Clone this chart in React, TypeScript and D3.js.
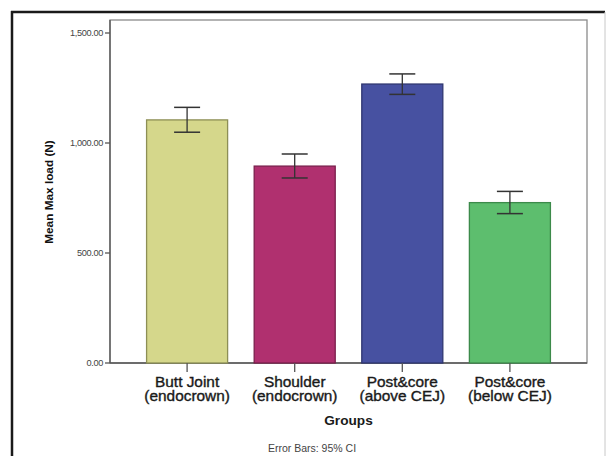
import React from "react";
import * as d3 from "d3";

// group labels (two lines each)
const groups = ["Butt Joint|(endocrown)", "Shoulder|(endocrown)", "Post&core|(above CEJ)", "Post&core|(below CEJ)"];
const means = [1105, 895, 1268, 729];
const ciLow = [1049, 841, 1221, 679];
const ciHigh = [1162, 950, 1314, 780];
const yTicks = [0, 500, 1000, 1500];
const fills = ["#d5d78b", "#b0306f", "#4751a1", "#5dbe6e"];
const strokes = ["#8d8f55", "#7a1f4c", "#2f3670", "#3c8a4a"];

const W = 614, H = 456;
const margin = { top: 20, left: 110, right: 27, bottom: 93 };

export default function App() {
  const x = d3.scaleBand()
    .domain(groups)
    .range([margin.left, W - margin.right])
    .paddingInner(0.247)
    .paddingOuter(0.34);
  const y = d3.scaleLinear().domain([0, 1500]).range([363, 33]);
  const fmt = d3.format(",.2f");
  const bottom = y(0);
  const font = "'Liberation Sans', Arial, sans-serif";

  return (
    <svg width={W} height={H} style={{ position: "absolute", left: 0, top: 0, background: "#fff" }} fontFamily={font}>
      {/* outer frame */}
      <line x1={12} y1={11} x2={12} y2={H} stroke="#1a1a1a" strokeWidth={2.5} />
      <line x1={11} y1={12} x2={605} y2={12} stroke="#1a1a1a" strokeWidth={2.5} />
      <line x1={605} y1={12} x2={605} y2={H} stroke="#c8c8c8" strokeWidth={1} />

      {/* plot frame */}
      <rect x={margin.left} y={margin.top} width={W - margin.right - margin.left} height={bottom - margin.top}
        fill="none" stroke="#8a8a8a" strokeWidth={1.3} />
      <line x1={margin.left} y1={margin.top} x2={margin.left} y2={bottom} stroke="#555" strokeWidth={1.3} />
      <line x1={margin.left} y1={bottom} x2={W - margin.right} y2={bottom} stroke="#555" strokeWidth={1.3} />

      {/* y axis */}
      {yTicks.map(t => (
        <g key={t}>
          <line x1={margin.left - 5} x2={margin.left} y1={y(t)} y2={y(t)} stroke="#555" strokeWidth={1.3} />
          <text x={margin.left - 7} y={y(t)} dy="0.35em" textAnchor="end" fontSize={9.2} fill="#444"
            letterSpacing={-0.35}>{fmt(t)}</text>
        </g>
      ))}
      <text transform={`translate(53,192) rotate(-90)`} textAnchor="middle" fontSize={11.8} fontWeight="bold" fill="#111">
        Mean Max load (N)
      </text>

      {/* bars */}
      {groups.map((g, i) => {
        const bx = x(g)!;
        const cx = bx + x.bandwidth() / 2;
        return (
          <g key={g}>
            <rect x={bx} y={y(means[i])} width={x.bandwidth()} height={bottom - y(means[i])}
              fill={fills[i]} stroke={strokes[i]} strokeWidth={1.3} />
            <line x1={cx} x2={cx} y1={y(ciHigh[i])} y2={y(ciLow[i])} stroke="#333" strokeWidth={1.3} />
            <line x1={cx - 13} x2={cx + 13} y1={y(ciHigh[i])} y2={y(ciHigh[i])} stroke="#333" strokeWidth={1.5} />
            <line x1={cx - 13} x2={cx + 13} y1={y(ciLow[i])} y2={y(ciLow[i])} stroke="#333" strokeWidth={1.5} />
            <line x1={cx} x2={cx} y1={bottom} y2={bottom + 9} stroke="#555" strokeWidth={1.3} />
            {g.split("|").map((line, k) => (
              <text key={k} transform={`translate(${cx},${387 + k * 14}) scale(1.1,1)`} textAnchor="middle"
                fontSize={14} fill="#1a1a1a" stroke="#1a1a1a" strokeWidth={0.35}>{line}</text>
            ))}
          </g>
        );
      })}

      <text transform={`translate(${(margin.left + W - margin.right) / 2},425) scale(1.05,1)`} textAnchor="middle"
        fontSize={13} fontWeight="bold" fill="#1a1a1a">Groups</text>
      <text x={312} y={452} textAnchor="middle" fontSize={10.5} fill="#444">Error Bars: 95% CI</text>
    </svg>
  );
}
